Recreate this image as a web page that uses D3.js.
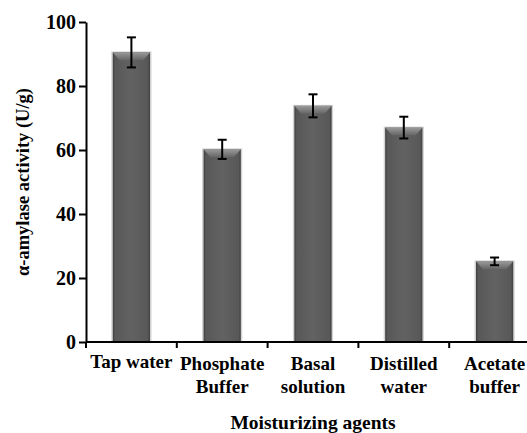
<!DOCTYPE html>
<html>
<head>
<meta charset="utf-8">
<script src="https://cdn.jsdelivr.net/npm/d3@7"></script>
<style>
  html, body { margin: 0; padding: 0; background: #ffffff; }
  svg { display: block; }
  svg text { font-family: "Liberation Serif", Tinos, "Times New Roman", Times, "DejaVu Serif", serif !important; font-weight: 700; fill: #000; }
</style>
</head>
<body>
<svg id="chart" width="527" height="433"></svg>
<script>
// Moisturizing agents and their α-amylase activity (mean ± error)
const categories = ["Tap water", "Phosphate Buffer", "Basal solution", "Distilled water", "Acetate buffer"];
const categoryLines = [["Tap water"], ["Phosphate", "Buffer"], ["Basal", "solution"], ["Distilled", "water"], ["Acetate", "buffer"]];
const activity = [90.5, 60.2, 73.8, 67.0, 25.2];
const errors = [4.7, 3.0, 3.6, 3.4, 1.2];
const yTicks = [0, 20, 40, 60, 80, 100];

const serif = "'Liberation Serif', Tinos, 'Times New Roman', Times, 'DejaVu Serif', serif";
const svg = d3.select("#chart");
const plotLeft = 86, plotRight = 540, plotTop = 22, plotBottom = 342;

const x = d3.scaleBand()
  .domain(categories)
  .range([plotLeft, plotRight])
  .paddingInner(0.59)
  .paddingOuter(0.295);

const y = d3.scaleLinear().domain([0, 100]).range([plotBottom, plotTop]);

// Gradients for the bevelled bars
const defs = svg.append("defs");
const side = defs.append("linearGradient").attr("id", "barSide")
  .attr("x1", "0").attr("x2", "1").attr("y1", "0").attr("y2", "0");
side.append("stop").attr("offset", "0").attr("stop-color", "#3e3e3e");
side.append("stop").attr("offset", "0.06").attr("stop-color", "#585858");
side.append("stop").attr("offset", "0.5").attr("stop-color", "#626262");
side.append("stop").attr("offset", "0.94").attr("stop-color", "#585858");
side.append("stop").attr("offset", "1").attr("stop-color", "#3e3e3e");

const bevel = defs.append("linearGradient").attr("id", "barBevel")
  .attr("x1", "0").attr("x2", "0").attr("y1", "0").attr("y2", "1");
bevel.append("stop").attr("offset", "0").attr("stop-color", "#9a9a9a");
bevel.append("stop").attr("offset", "1").attr("stop-color", "#646464");

const data = categories.map((c, i) => ({ c, v: activity[i], e: errors[i] }));

const bars = svg.append("g").selectAll("g").data(data).join("g");

// soft halo around each bar
bars.append("rect")
  .attr("x", d => x(d.c) - 1.5)
  .attr("y", d => y(d.v) - 1)
  .attr("width", x.bandwidth() + 3)
  .attr("height", d => y(0) - y(d.v) + 1)
  .attr("fill", "#d4d4d4");

bars.append("rect")
  .attr("x", d => x(d.c))
  .attr("y", d => y(d.v))
  .attr("width", x.bandwidth())
  .attr("height", d => y(0) - y(d.v))
  .attr("fill", "url(#barSide)");

// lighter bevelled top edge
bars.append("path")
  .attr("d", d => {
    const x0 = x(d.c), x1 = x0 + x.bandwidth(), t = y(d.v), h = 8, inset = 7;
    return `M${x0},${t}L${x1},${t}L${x1 - inset},${t + h}L${x0 + inset},${t + h}Z`;
  })
  .attr("fill", "url(#barBevel)");

// error bars
const cap = 4.5;
const eb = svg.append("g").attr("stroke", "#000").attr("stroke-width", 2)
  .selectAll("g").data(data).join("g");
eb.append("line")
  .attr("x1", d => x(d.c) + x.bandwidth() / 2).attr("x2", d => x(d.c) + x.bandwidth() / 2)
  .attr("y1", d => y(d.v + d.e)).attr("y2", d => y(d.v - d.e));
eb.append("line")
  .attr("x1", d => x(d.c) + x.bandwidth() / 2 - cap).attr("x2", d => x(d.c) + x.bandwidth() / 2 + cap)
  .attr("y1", d => y(d.v + d.e)).attr("y2", d => y(d.v + d.e));
eb.append("line")
  .attr("x1", d => x(d.c) + x.bandwidth() / 2 - cap).attr("x2", d => x(d.c) + x.bandwidth() / 2 + cap)
  .attr("y1", d => y(d.v - d.e)).attr("y2", d => y(d.v - d.e));

// y axis
const yAxis = svg.append("g")
  .attr("transform", `translate(${plotLeft},0)`)
  .call(d3.axisLeft(y).tickValues(yTicks).tickSize(7).tickPadding(3).tickSizeOuter(0))
  .attr("font-family", serif).attr("font-size", 20).attr("font-weight", "bold");
yAxis.select(".domain").attr("stroke", "#000").attr("stroke-width", 2);
yAxis.selectAll(".tick line").attr("stroke", "#000").attr("stroke-width", 2);
yAxis.selectAll(".tick text").attr("fill", "#000");

// x axis with ticks between categories
const xg = svg.append("g");
xg.append("line")
  .attr("x1", plotLeft).attr("x2", plotRight).attr("y1", plotBottom).attr("y2", plotBottom)
  .attr("stroke", "#000").attr("stroke-width", 2);
xg.selectAll("line.tk").data(d3.range(categories.length + 1)).join("line")
  .attr("class", "tk")
  .attr("x1", i => plotLeft + i * x.step()).attr("x2", i => plotLeft + i * x.step())
  .attr("y1", plotBottom).attr("y2", plotBottom + 6)
  .attr("stroke", "#000").attr("stroke-width", 2);

// category labels
const lab = xg.selectAll("text.cat").data(data).join("text")
  .attr("class", "cat")
  .attr("text-anchor", "middle")
  .attr("font-family", serif).attr("font-weight", "bold")
  .attr("font-size", 19);
lab.each(function (d, i) {
  const t = d3.select(this);
  categoryLines[i].forEach((ln, k) => {
    t.append("tspan")
      .attr("x", x(d.c) + x.bandwidth() / 2)
      .attr("y", (i === 0 ? 368 : 370) + k * 22.5)
      .text(ln);
  });
});

// axis titles
svg.append("text")
  .attr("x", (plotLeft + plotRight) / 2)
  .attr("y", 429)
  .attr("text-anchor", "middle")
  .attr("font-family", serif).attr("font-weight", "bold")
  .attr("font-size", 19.5)
  .text("Moisturizing agents");

svg.append("text")
  .attr("transform", `translate(29,${(plotTop + plotBottom) / 2}) rotate(-90)`)
  .attr("text-anchor", "middle")
  .attr("font-family", serif).attr("font-weight", "bold")
  .attr("font-size", 18.5)
  .text("α-amylase activity (U/g)");
</script>
</body>
</html>
